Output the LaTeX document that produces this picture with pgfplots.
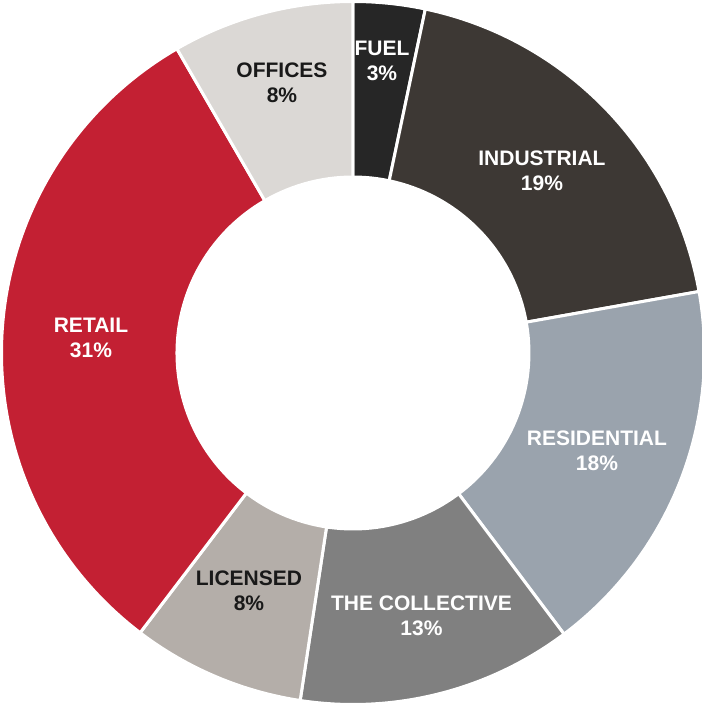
\documentclass[border=0pt]{standalone}
\usepackage{fontspec}
\setmainfont{Liberation Sans}
\usepackage{pgfplots}
\pgfplotsset{compat=1.18}
\definecolor{cFuel}{HTML}{262626}
\definecolor{cInd}{HTML}{3D3834}
\definecolor{cRes}{HTML}{9AA3AD}
\definecolor{cCol}{HTML}{808080}
\definecolor{cLic}{HTML}{B4AEA9}
\definecolor{cRet}{HTML}{C32033}
\definecolor{cOff}{HTML}{DBD8D5}
% slice shares in percent (clockwise from the top)
\def\vFuel{3.3}
\def\vInd{18.9}
\def\vRes{17.55}
\def\vCol{12.65}
\def\vLic{7.95}
\def\vRet{31.3}
\def\vOff{8.35}
\newcommand{\slice}[3]{% colour, cumulative start, value
  \addplot[fill=#1, draw=white, line width=3pt, line join=round,
    data cs=polar, domain={90-3.6*(#2+#3)}:{90-3.6*(#2)}, samples=90]
    ({x},{351.5}) -- (axis cs:0,0) -- cycle;}
\tikzset{lab/.style={font=\fontsize{21}{24.5}\selectfont\bfseries, align=center, inner sep=0pt}}
\begin{document}
\begin{tikzpicture}
\begin{axis}[hide axis, scale only axis, width=703pt, height=704pt,
  xmin=-354, xmax=349, ymin=-351, ymax=353, clip=true]
\slice{cFuel}{0}{\vFuel}
\slice{cInd}{\vFuel}{\vInd}
\slice{cRes}{\vFuel+\vInd}{\vRes}
\slice{cCol}{\vFuel+\vInd+\vRes}{\vCol}
\slice{cLic}{\vFuel+\vInd+\vRes+\vCol}{\vLic}
\slice{cRet}{\vFuel+\vInd+\vRes+\vCol+\vLic}{\vRet}
\slice{cOff}{\vFuel+\vInd+\vRes+\vCol+\vLic+\vRet}{\vOff}
\addplot[fill=white, draw=none, data cs=polar, domain=0:360, samples=181]
  ({x},{177.5}) -- cycle;
\node[lab, text=white] at (axis cs:29,292) {FUEL\\3\%};
\node[lab, text=white] at (axis cs:189,182) {INDUSTRIAL\\19\%};
\node[lab, text=white] at (axis cs:244,-98) {RESIDENTIAL\\18\%};
\node[lab, text=white] at (axis cs:68.5,-263) {THE COLLECTIVE\\13\%};
\node[lab, text=black!90] at (axis cs:-104,-238) {LICENSED\\8\%};
\node[lab, text=white] at (axis cs:-262,15) {RETAIL\\31\%};
\node[lab, text=black!90] at (axis cs:-71,270) {OFFICES\\8\%};
\end{axis}
\end{tikzpicture}
\end{document}
